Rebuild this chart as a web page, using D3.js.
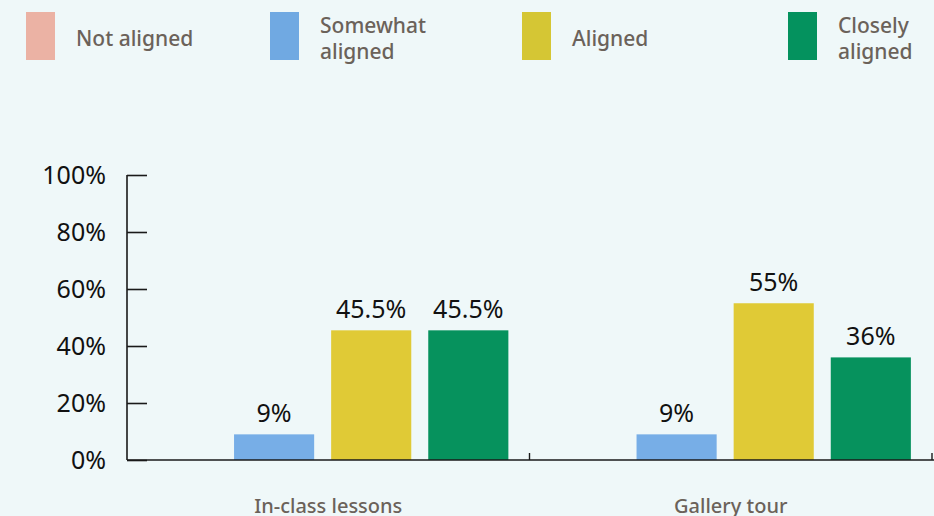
<!DOCTYPE html>
<html>
<head>
<meta charset="utf-8">
<script src="https://cdn.jsdelivr.net/npm/d3@7"></script>
<style>
  html, body { margin: 0; padding: 0; background: #eff8f9; }
  svg { display: block; }
  text { font-family: "Noto Sans", "Open Sans", sans-serif; }
</style>
</head>
<body>
<svg id="chart" width="934" height="516"></svg>
<script>
// Alignment of activities with the curriculum
const categories = ["In-class lessons", "Gallery tour"];
const seriesNames = ["Not aligned", "Somewhat aligned", "Aligned", "Closely aligned"];
const legendLines = [["Not aligned"], ["Somewhat", "aligned"], ["Aligned"], ["Closely", "aligned"]];
const notAligned = [0, 0];
const somewhatAligned = [9, 9];
const aligned = [45.5, 55];
const closelyAligned = [45.5, 36];
const yTicks = [0, 20, 40, 60, 80, 100];

const barColors = ["#ebb2a4", "#77aee7", "#e0ca36", "#06925d"];
const swatchColors = ["#ebb2a4", "#70a9e2", "#d5c634", "#04925e"];

const seriesValues = [notAligned, somewhatAligned, aligned, closelyAligned];
const rows = categories.map((c, i) => ({
  category: c,
  bars: seriesNames.map((s, j) => ({ series: s, index: j, value: seriesValues[j][i] }))
}));

const svg = d3.select("#chart");
const axisLeft = 127, axisRight = 932, y0 = 460, y100 = 175;

const y = d3.scaleLinear().domain([0, 100]).range([y0, y100]);
const x0 = d3.scaleBand().domain(categories).range([axisLeft, axisRight]).padding(0);
const x1 = d3.scaleBand().domain(seriesNames).range([0, x0.bandwidth()])
  .paddingInner(0.175).paddingOuter(0.16).align(0.32);

// Legend
const legendX = [26, 270, 522, 788];
const legend = svg.append("g").selectAll("g").data(seriesNames).join("g")
  .attr("transform", (d, i) => `translate(${legendX[i]},12)`);
legend.append("rect")
  .attr("width", 29).attr("height", 48)
  .attr("fill", (d, i) => swatchColors[i]);
legend.append("text")
  .attr("fill", "#6b625a")
  .style("font-size", "21px")
  .style("font-weight", "500")
  .each(function(d, i) {
    const lines = legendLines[i];
    const t = d3.select(this);
    const startY = lines.length === 1 ? 34 : 21;
    lines.forEach((ln, k) => {
      t.append("tspan").attr("x", 50).attr("y", startY + k * 25.5).text(ln);
    });
  });

// Y axis: ticks point into the plot
const yAxis = d3.axisRight(y).tickValues(yTicks).tickSize(20).tickFormat(d => d + "%");
const gy = svg.append("g").attr("transform", `translate(${axisLeft},0)`).call(yAxis);
gy.select(".domain").attr("d", `M0,${y100}V${y0}`).attr("stroke", "#1a1a1a").attr("stroke-width", 1.6);
gy.selectAll(".tick line").attr("stroke", "#1a1a1a").attr("stroke-width", 1.6);
gy.selectAll(".tick text")
  .attr("x", -21).attr("text-anchor", "end")
  .attr("fill", "#111")
  .style("font-size", "25px")
  .style("font-weight", "400");

// Bars
const groups = svg.append("g").selectAll("g").data(rows).join("g")
  .attr("transform", d => `translate(${x0(d.category)},0)`);
groups.selectAll("rect").data(d => d.bars.filter(b => b.value > 0)).join("rect")
  .attr("x", d => x1(d.series))
  .attr("width", x1.bandwidth())
  .attr("y", d => y(d.value))
  .attr("height", d => y(0) - y(d.value))
  .attr("fill", d => barColors[d.index]);
groups.selectAll("text.val").data(d => d.bars.filter(b => b.value > 0)).join("text")
  .attr("class", "val")
  .attr("x", d => x1(d.series) + x1.bandwidth() / 2)
  .attr("y", d => y(d.value) - 12)
  .attr("text-anchor", "middle")
  .attr("fill", "#111")
  .style("font-size", "25px")
  .style("font-weight", "400")
  .text(d => d.value + "%");

// X axis baseline with upward ticks at band boundaries
svg.append("line")
  .attr("x1", axisLeft).attr("x2", 934)
  .attr("y1", y0).attr("y2", y0)
  .attr("stroke", "#1a1a1a").attr("stroke-width", 1.6);
const boundaries = categories.slice(1).map(c => x0(c)).concat([axisRight]);
svg.append("g").selectAll("line").data(boundaries).join("line")
  .attr("x1", d => d).attr("x2", d => d)
  .attr("y1", y0).attr("y2", y0 - 7)
  .attr("stroke", "#1a1a1a").attr("stroke-width", 1.4);

// Category labels
svg.append("g").selectAll("text").data(categories).join("text")
  .attr("x", d => x0(d) + x0.bandwidth() / 2)
  .attr("y", 513)
  .attr("text-anchor", "middle")
  .attr("fill", "#6b625a")
  .style("font-size", "20px")
  .style("font-weight", "500")
  .text(d => d);
</script>
</body>
</html>
